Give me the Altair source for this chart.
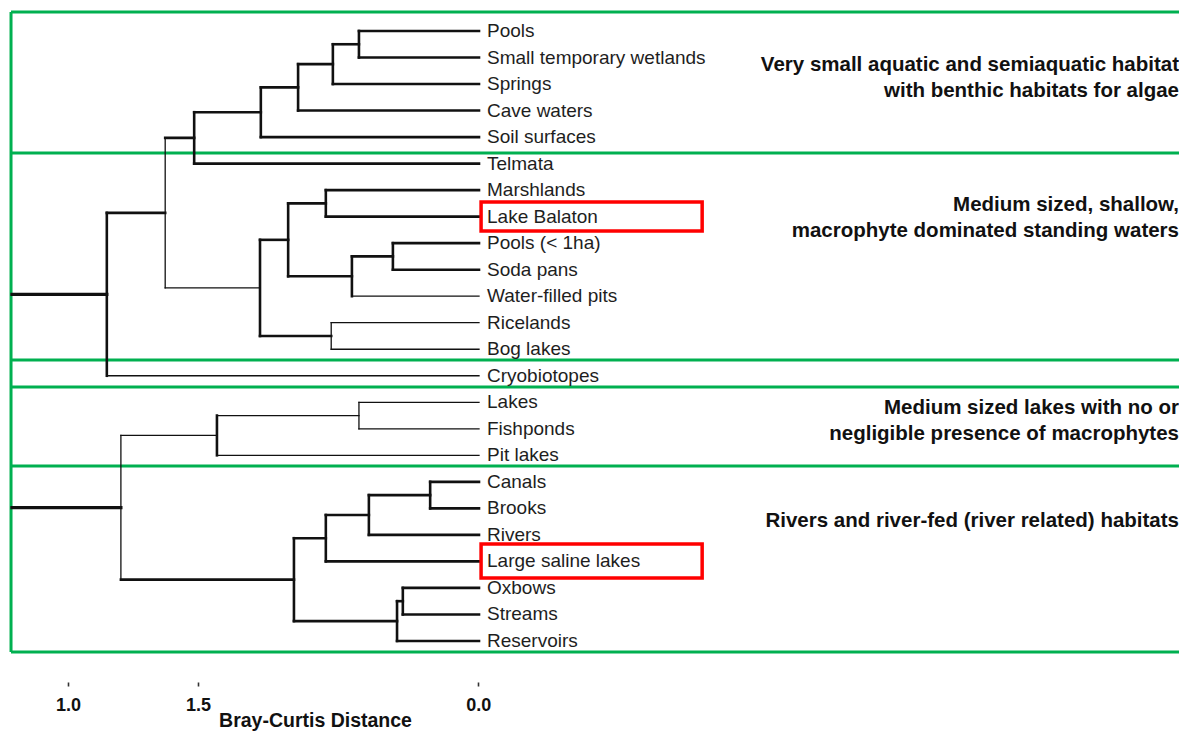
import altair as alt
import pandas as pd

# ---------------- data ----------------
LEAVES = [
    "Pools", "Small temporary wetlands", "Springs", "Cave waters", "Soil surfaces",
    "Telmata", "Marshlands", "Lake Balaton", "Pools (< 1ha)", "Soda pans",
    "Water-filled pits", "Ricelands", "Bog lakes", "Cryobiotopes", "Lakes",
    "Fishponds", "Pit lakes", "Canals", "Brooks", "Rivers", "Large saline lakes",
    "Oxbows", "Streams", "Reservoirs",
]

# cluster merges (id, left child, right child, Bray-Curtis height)
MERGE_IDS = ["n1", "n2", "n3", "n4", "n5", "m1", "m2", "m3", "m4", "m5", "m6", "t1", "t2",
             "b1", "b2", "c1", "c2", "c3", "o1", "o2", "c4", "b3"]
MERGE_LEFT = ["Pools", "n1", "n2", "n3", "n4", "Marshlands", "Pools (< 1ha)", "m2", "m1",
              "Ricelands", "m4", "n5", "t1", "Lakes", "b1", "Canals", "c1", "c2",
              "Oxbows", "o1", "c3", "b2"]
MERGE_RIGHT = ["Small temporary wetlands", "Springs", "Cave waters", "Soil surfaces",
               "Telmata", "Lake Balaton", "Soda pans", "Water-filled pits", "m3",
               "Bog lakes", "m5", "m6", "Cryobiotopes", "Fishponds", "Pit lakes",
               "Brooks", "Rivers", "Large saline lakes", "Streams", "Reservoirs",
               "o2", "c4"]
MERGE_HEIGHT = [0.290, 0.353, 0.437, 0.527, 0.688, 0.370, 0.208, 0.307, 0.461, 0.357,
                0.529, 0.758, 0.899, 0.290, 0.633, 0.118, 0.266, 0.370, 0.184, 0.198,
                0.447, 0.865]
ROOTS = ["t2", "b3"]
ROOT_HEIGHT = 1.128

THIN_LINKS = ["Water-filled pits", "Ricelands", "Bog lakes", "Cryobiotopes", "Lakes",
              "Fishponds", "Pit lakes", "m6", "b1", "b2"]
THIN_NODES = ["m5", "t1", "b1", "b3"]

# habitat groups
GROUP_BOUNDS = [-0.72, 4.60, 12.41, 13.42, 16.40, 23.42]
GROUP_LEFT = 1.1304
GROUP_TEXT = [
    "Very small aquatic and semiaquatic habitat\nwith benthic habitats for algae",
    "Medium sized, shallow,\nmacrophyte dominated standing waters",
    "Medium sized lakes with no or\nnegligible presence of macrophytes",
    "Rivers and river-fed (river related) habitats",
]
GROUP_TEXT_ROW = [1.28, 6.56, 14.22, 18.48]

# highlighted habitats
HIGHLIGHT = ["Lake Balaton", "Large saline lakes"]
HL_ROW0 = [6.45, 19.34]
HL_ROW1 = [7.54, 20.63]
HL_D0 = -0.005
HL_D1 = -0.539

# axis
TICK_VALUES = [0.993, 0.679, 0.002]
TICK_LABELS = ["1.0", "1.5", "0.0"]
AXIS_TITLE = "Bray-Curtis Distance"

X_DOMAIN = [1.1377, -1.6908]
Y_DOMAIN = [-0.867, 26.508]

FONT = "Liberation Sans"

# ---------------- layout of the tree ----------------
row = {name: i for i, name in enumerate(LEAVES)}
hgt = {name: 0.0 for name in LEAVES}
segs = []
for mid, l, r, h in zip(MERGE_IDS, MERGE_LEFT, MERGE_RIGHT, MERGE_HEIGHT):
    row[mid] = (row[l] + row[r]) / 2
    hgt[mid] = h
    segs.append(dict(d=h, d2=h, row=row[l], row2=row[r],
                     w=1.3 if mid in THIN_NODES else 2.6))
    for c in (l, r):
        segs.append(dict(d=hgt[c], d2=h, row=row[c], row2=row[c],
                         w=1.3 if c in THIN_LINKS else 2.6))
for rt in ROOTS:
    segs.append(dict(d=hgt[rt], d2=ROOT_HEIGHT, row=row[rt], row2=row[rt], w=3.2))
seg_df = pd.DataFrame(segs)

leaf_df = pd.DataFrame({"name": LEAVES, "row": list(range(len(LEAVES))), "d": 0.0})

bound_df = pd.DataFrame({"row": GROUP_BOUNDS, "d": GROUP_LEFT, "d2": X_DOMAIN[1]})
left_df = pd.DataFrame({"row": [GROUP_BOUNDS[0]], "row2": [GROUP_BOUNDS[-1]],
                        "d": [GROUP_LEFT]})
gtext_df = pd.DataFrame({"label": GROUP_TEXT, "row": GROUP_TEXT_ROW, "d": X_DOMAIN[1]})
hl_df = pd.DataFrame({"name": HIGHLIGHT, "row": HL_ROW0, "row2": HL_ROW1,
                      "d": HL_D0, "d2": HL_D1})

label_expr = " : ".join(
    f"abs(datum.value - {v}) < 0.0005 ? '{t}'" for v, t in zip(TICK_VALUES, TICK_LABELS)
) + " : ''"

X_AXIS = alt.Axis(
    values=TICK_VALUES, labelExpr=label_expr, title=AXIS_TITLE, orient="bottom",
    offset=-52, domain=False, grid=False, tickSize=4, tickColor="#333", tickWidth=1.6,
    labelFont=FONT, labelFontWeight="bold", labelFontSize=18, labelColor="#111",
    labelPadding=10, labelFlush=False,
    titleFont=FONT, titleFontWeight="bold", titleFontSize=19.5, titleColor="#111",
    titleX=307, titleY=38, titleAlign="center", titleBaseline="middle",
)
xs = alt.Scale(domain=X_DOMAIN, nice=False, zero=False)
ys = alt.Scale(domain=Y_DOMAIN, nice=False, zero=False, reverse=True)

X = alt.X("d:Q", scale=xs, axis=X_AXIS)
Y = alt.Y("row:Q", scale=ys, axis=None)

tree = alt.Chart(seg_df).mark_rule(color="#111", strokeCap="square").encode(
    x=X, x2="d2:Q", y=Y, y2="row2:Q",
    strokeWidth=alt.StrokeWidth("w:Q", scale=None),
)

leaf_text = alt.Chart(leaf_df).mark_text(
    align="left", baseline="middle", dx=8, font=FONT, fontSize=19, color="#1e1e1e"
).encode(x=X, y=Y, text="name:N")

green_h = alt.Chart(bound_df).mark_rule(color="#00B050", strokeWidth=3).encode(
    x=X, x2="d2:Q", y=Y)
green_v = alt.Chart(left_df).mark_rule(color="#00B050", strokeWidth=3).encode(
    x=X, y=Y, y2="row2:Q")

group_text = alt.Chart(gtext_df).mark_text(
    align="right", baseline="middle", lineBreak="\n", lineHeight=26,
    font=FONT, fontSize=20.5, fontWeight="bold", color="#111"
).encode(x=X, y=Y, text="label:N")

red = alt.Chart(hl_df).mark_rect(fill=None, stroke="#FF0000", strokeWidth=3.5).encode(
    x=X, x2="d2:Q", y=Y, y2="row2:Q")

chart = alt.layer(green_h, green_v, tree, leaf_text, group_text, red).properties(
    width=1171, height=726, padding=0,
    autosize=alt.AutoSizeParams(type="none"),
).configure_view(stroke=None)

chart.save("out.html", embed_options={"renderer": "svg", "actions": False})
